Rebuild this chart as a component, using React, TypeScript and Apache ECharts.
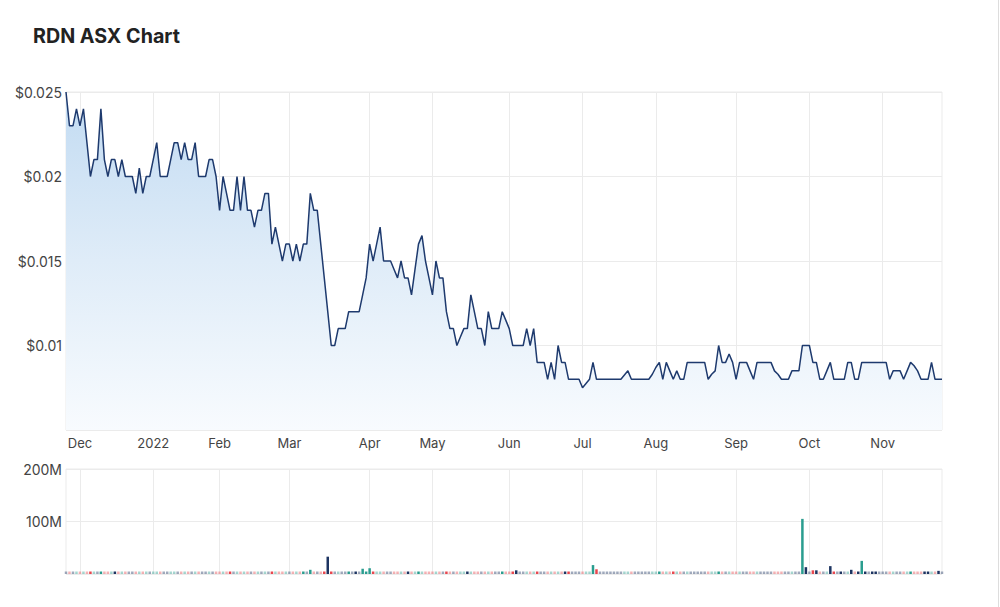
import React, { useEffect, useRef } from "react";
import * as echarts from "echarts";

// ASX holidays in the period (excluded trading days)
const holidays = [
  "2021-12-27", "2021-12-28", "2022-01-03", "2022-01-26", "2022-04-15",
  "2022-04-18", "2022-04-25", "2022-06-13", "2022-09-22",
];

function tradingDays(start: [number, number, number], end: [number, number, number]): string[] {
  const out: string[] = [];
  let t = Date.UTC(start[0], start[1] - 1, start[2]);
  const e = Date.UTC(end[0], end[1] - 1, end[2]);
  while (t <= e) {
    const d = new Date(t);
    const wd = d.getUTCDay();
    const s = d.toISOString().slice(0, 10);
    if (wd !== 0 && wd !== 6 && holidays.indexOf(s) < 0) out.push(s);
    t += 86400000;
  }
  return out;
}

const dates = tradingDays([2021, 11, 25], [2022, 11, 24]);

const monthNames = ["Jan", "Feb", "Mar", "Apr", "May", "Jun", "Jul", "Aug", "Sep", "Oct", "Nov", "Dec"];

const priceTicks = [0.005, 0.01, 0.015, 0.02, 0.025];
const volumeTicks = [0, 100, 200]; // millions

// Closing price (A$)
const prices = [
  0.025, 0.023, 0.023, 0.024, 0.023, 0.024, 0.022, 0.020, 0.021, 0.021,
  0.024, 0.021, 0.020, 0.021, 0.021, 0.020, 0.021, 0.020, 0.020, 0.020,
  0.019, 0.0205, 0.019, 0.020, 0.020, 0.021, 0.022, 0.020, 0.020, 0.020,
  0.021, 0.022, 0.022, 0.021, 0.022, 0.021, 0.021, 0.022, 0.020, 0.020,
  0.020, 0.021, 0.021, 0.020, 0.018, 0.020, 0.019, 0.018, 0.018, 0.020,
  0.018, 0.020, 0.018, 0.018, 0.017, 0.018, 0.018, 0.019, 0.019, 0.016,
  0.017, 0.016, 0.015, 0.016, 0.016, 0.015, 0.016, 0.015, 0.016, 0.016,
  0.019, 0.018, 0.018, 0.016, 0.014, 0.012, 0.010, 0.010, 0.011, 0.011,
  0.011, 0.012, 0.012, 0.012, 0.012, 0.013, 0.014, 0.016, 0.015, 0.016,
  0.017, 0.015, 0.015, 0.015, 0.0145, 0.014, 0.015, 0.014, 0.014, 0.013,
  0.0145, 0.016, 0.0165, 0.015, 0.014, 0.013, 0.015, 0.014, 0.014, 0.012,
  0.011, 0.011, 0.010, 0.0105, 0.011, 0.011, 0.013, 0.012, 0.011, 0.011,
  0.010, 0.012, 0.011, 0.011, 0.011, 0.012, 0.0115, 0.011, 0.010, 0.010,
  0.010, 0.010, 0.011, 0.010, 0.011, 0.009, 0.009, 0.009, 0.008, 0.009,
  0.008, 0.010, 0.009, 0.009, 0.008, 0.008, 0.008, 0.008, 0.0075, 0.00775,
  0.008, 0.009, 0.008, 0.008, 0.008, 0.008, 0.008, 0.008, 0.008, 0.008,
  0.00825, 0.0085, 0.008, 0.008, 0.008, 0.008, 0.008, 0.008, 0.0083, 0.0087,
  0.009, 0.008, 0.009, 0.0085, 0.008, 0.0085, 0.008, 0.008, 0.009, 0.009,
  0.009, 0.009, 0.009, 0.009, 0.008, 0.0083, 0.0085, 0.010, 0.009, 0.009,
  0.0095, 0.009, 0.008, 0.009, 0.009, 0.009, 0.0085, 0.008, 0.009, 0.009,
  0.009, 0.009, 0.009, 0.0085, 0.0083, 0.008, 0.008, 0.008, 0.0085, 0.0085,
  0.0085, 0.010, 0.010, 0.010, 0.009, 0.009, 0.008, 0.008, 0.0085, 0.009,
  0.008, 0.008, 0.008, 0.008, 0.009, 0.009, 0.008, 0.008, 0.009, 0.009,
  0.009, 0.009, 0.009, 0.009, 0.009, 0.009, 0.008, 0.0085, 0.0085, 0.0085,
  0.008, 0.0085, 0.009, 0.0088, 0.0085, 0.008, 0.008, 0.008, 0.009, 0.008,
  0.008, 0.008,
];

// Volume (millions of shares)
const volumes = [
  2, 1.5, 2, 1.5, 1, 2, 1.5, 2.5, 1.5, 1,
  2.5, 1.5, 1, 1.5, 3, 1.5, 2, 1, 1.5, 1,
  2, 1.5, 1, 2, 1.5, 1, 2, 1.5, 1, 1.5,
  2, 1, 1.5, 1, 2, 1.5, 1, 1.5, 2, 1,
  1.5, 1, 1.5, 1, 2, 1.5, 1, 3, 1.5, 1,
  2, 1, 1.5, 1, 2, 1, 1.5, 2, 1, 2.5,
  1.5, 1, 2, 1.5, 1, 2, 1.5, 2, 3, 2,
  8, 2, 1.5, 2, 3, 33, 3, 2, 1.5, 1.5,
  2, 4, 2, 3, 2, 10, 2.5, 11, 3.5, 1.5,
  2, 1, 1.5, 1, 1.5, 1, 2, 1, 3, 1.5,
  1, 3, 2, 1.5, 1, 1.5, 1, 1.5, 2, 3,
  1.5, 1, 1.5, 1, 2, 3, 1, 1.5, 1, 1,
  1.5, 1, 1.5, 1, 2, 4, 1.5, 2, 2.5, 7,
  1.5, 1, 2, 1.5, 2, 3, 1, 1.5, 2, 1,
  1.5, 2, 1, 3, 3, 1, 1.5, 1, 2, 1,
  1, 17, 9, 1, 1, 1, 1, 1, 1, 1,
  1, 1, 1, 1, 1, 1, 1, 1, 1, 1,
  3, 1, 1.5, 1, 4, 1, 1.5, 1, 1, 1,
  1, 1, 1, 1, 1, 1.5, 1, 4, 2, 1,
  1, 1, 1, 1, 1, 1, 1, 1, 1.5, 1,
  1, 1, 1, 1, 1, 1, 1, 1, 1, 1,
  1, 105, 13, 1.5, 7, 7, 2, 1, 1.5, 15,
  3, 1.5, 3, 1, 1.5, 8, 2, 3, 25, 3,
  1.5, 3.5, 2.5, 1, 1, 1, 2, 1, 1, 2,
  1, 1, 3, 1, 1, 1, 3, 2.5, 1, 1,
  6, 1.5,
];

// days whose volume bar is drawn as "unchanged" although the close moved
const flatVolumeDays = [75, 219];

const UP = "#2a9d8f";
const DOWN = "#e8474f";
const FLAT = "#1d3461";
const GRID = "#ebebeb";

function isMonthStart(index: number): boolean {
  if (index <= 0 || index >= dates.length) return false;
  return dates[index].slice(5, 7) !== dates[index - 1].slice(5, 7);
}

function monthLabel(value: string): string {
  const m = parseInt(value.slice(5, 7), 10);
  return m === 1 ? value.slice(0, 4) : monthNames[m - 1];
}

export default function App() {
  const ref = useRef<HTMLDivElement>(null);
  useEffect(() => {
    document.body.style.margin = "0";
    if (!ref.current) return;
    const chart = echarts.init(ref.current, undefined, { renderer: "svg" });
    const barData = volumes.map((v, i) => {
      const prev = i > 0 ? prices[i - 1] : prices[i];
      let c = prices[i] > prev ? UP : prices[i] < prev ? DOWN : FLAT;
      if (flatVolumeDays.indexOf(i) >= 0) c = FLAT;
      return { value: v, itemStyle: { color: c, opacity: v < 2.5 ? 0.42 : 1 } };
    });
    const xLabel = { color: "#444", fontSize: 13, fontFamily: "Inter, sans-serif" };
    const yLabel = { color: "#444", fontSize: 14, fontFamily: "Inter, sans-serif" };
    chart.setOption({
      animation: false,
      textStyle: { fontFamily: "Inter, sans-serif" },
      title: {
        text: "RDN ASX Chart",
        left: 33,
        top: 26,
        padding: 0,
        textStyle: { fontSize: 19.7, fontWeight: "bold", color: "#222", fontFamily: "Inter, sans-serif" },
      },
      grid: [
        { left: 66, right: 58, top: 92, height: 338, show: true, borderColor: GRID, borderWidth: 1 },
        { left: 66, right: 58, top: 469, height: 105, show: true, borderColor: GRID, borderWidth: 1 },
      ],
      xAxis: [
        {
          type: "category",
          gridIndex: 0,
          data: dates,
          boundaryGap: false,
          axisLine: { show: false },
          axisTick: { show: false },
          axisLabel: {
            ...xLabel,
            interval: (i: number) => isMonthStart(i),
            formatter: (v: string) => monthLabel(v),
            margin: 6,
          },
          splitLine: { show: true, interval: (i: number) => isMonthStart(i), lineStyle: { color: GRID } },
        },
        {
          type: "category",
          gridIndex: 1,
          data: dates,
          boundaryGap: false,
          axisLine: { show: false },
          axisTick: { show: false },
          axisLabel: { show: false },
          splitLine: { show: true, interval: (i: number) => isMonthStart(i), lineStyle: { color: GRID } },
        },
      ],
      yAxis: [
        {
          type: "value",
          gridIndex: 0,
          min: priceTicks[0],
          max: priceTicks[priceTicks.length - 1],
          interval: priceTicks[1] - priceTicks[0],
          axisLine: { show: false },
          axisTick: { show: false },
          axisLabel: {
            ...yLabel,
            showMinLabel: false,
            margin: 4,
            formatter: (v: number) => "$" + parseFloat(v.toFixed(4)),
          },
          splitLine: { lineStyle: { color: GRID } },
        },
        {
          type: "value",
          gridIndex: 1,
          min: volumeTicks[0],
          max: volumeTicks[volumeTicks.length - 1],
          interval: volumeTicks[1] - volumeTicks[0],
          axisLine: { show: false },
          axisTick: { show: false },
          axisLabel: {
            ...yLabel,
            showMinLabel: false,
            margin: 4,
            formatter: (v: number) => v + "M",
          },
          splitLine: { lineStyle: { color: GRID } },
        },
      ],
      series: [
        {
          type: "line",
          xAxisIndex: 0,
          yAxisIndex: 0,
          data: prices,
          symbol: "none",
          showSymbol: false,
          lineStyle: { color: "#1e3a6e", width: 1.5 },
          areaStyle: {
            opacity: 1,
            color: new echarts.graphic.LinearGradient(0, 0, 0, 1, [
              { offset: 0, color: "#c2dbf2" },
              { offset: 0.5, color: "#dfecf8" },
              { offset: 1, color: "#f8fbfe" },
            ]),
          },
        },
        {
          type: "bar",
          xAxisIndex: 1,
          yAxisIndex: 1,
          data: barData,
          barWidth: 2.5,
          barMinHeight: 2.5,
        },
      ],
      graphic: [
        {
          type: "line",
          shape: { x1: 998.5, y1: 0, x2: 998.5, y2: 607 },
          style: { stroke: "#dddddd", lineWidth: 1 },
        },
      ],
    });
    return () => chart.dispose();
  }, []);
  return (
    <div
      ref={ref}
      style={{ position: "absolute", left: 0, top: 0, width: 1000, height: 607, background: "#fff" }}
    />
  );
}
